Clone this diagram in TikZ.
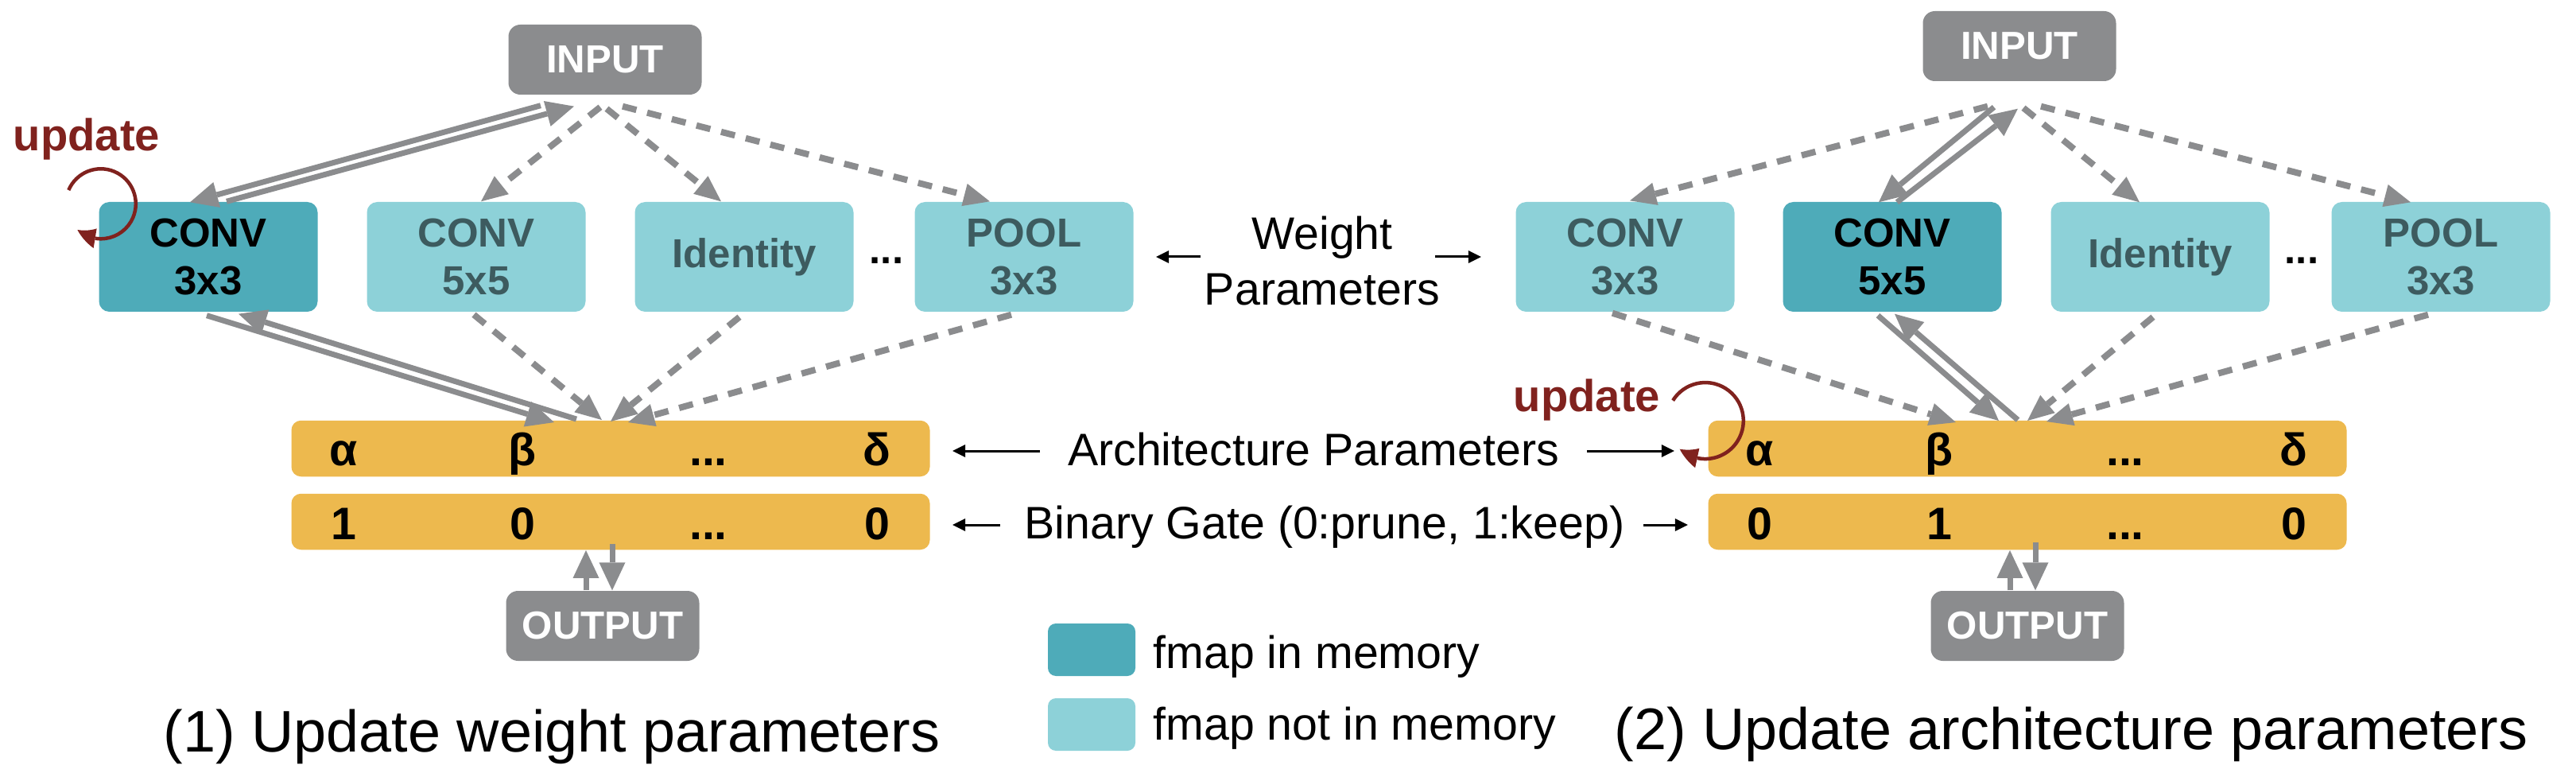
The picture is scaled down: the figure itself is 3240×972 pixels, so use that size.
\documentclass[tikz,border=0pt]{standalone}
\usepackage{fontspec}
\setmainfont{Liberation Sans}
\usetikzlibrary{arrows.meta,bending,calc}
\definecolor{iogray}{HTML}{8B8C8E}
\definecolor{memteal}{HTML}{4EABB9}
\definecolor{offteal}{HTML}{8DD1D8}
\definecolor{offtext}{HTML}{3D5B5F}
\definecolor{barorange}{HTML}{EDB94E}
\definecolor{updred}{HTML}{80221E}
\newcommand{\opdots}{...}
\tikzset{
  iobox/.style={fill=iogray, rounded corners=1.5mm, minimum width=24.3mm, minimum height=8.8mm,
    inner sep=0, text=white, font=\bfseries\fontsize{14}{16}\selectfont},
  opbox/.style={rounded corners=1.3mm, minimum width=27.5mm, minimum height=13.8mm, inner sep=0,
    align=center, font=\bfseries\fontsize{14.5}{17.07}\selectfont},
  inmem/.style={opbox, fill=memteal, text=black},
  outmem/.style={opbox, fill=offteal, text=offtext},
  gatebar/.style={fill=barorange, rounded corners=1.2mm, minimum width=80.3mm, minimum height=7.05mm, inner sep=0},
  barlbl/.style={anchor=base, inner sep=0, font=\bfseries\fontsize{16.3}{19}\selectfont},
  midtxt/.style={inner sep=0, font=\fontsize{16.3}{19.9}\selectfont},
  captxt/.style={anchor=base, inner sep=0, font=\fontsize{21}{25}\selectfont},
  updlbl/.style={anchor=base, inner sep=0, text=updred, font=\bfseries\fontsize{16}{19}\selectfont},
  legbox/.style={rounded corners=1mm, minimum width=11mm, minimum height=6.6mm, inner sep=0},
  fwd/.style={draw=iogray, line width=0.7mm, -{Triangle[length=3.5mm,width=3.3mm,line width=0pt]}},
  dasharr/.style={draw=iogray, line width=0.8mm, dash pattern=on 1.8mm off 1.4mm,
    -{Triangle[length=3.3mm,width=2.9mm,line width=0pt]}},
  lblarr/.style={draw=black, line width=0.3mm, -{Triangle[length=1.6mm,width=1.6mm,line width=0pt]}},
  upd/.style={draw=updred, line width=0.45mm, -{Triangle[length=2.5mm,width=2.5mm,line width=0pt,bend]}},
}
\begin{document}
\begin{tikzpicture}[x=0.1mm, y=-0.1mm]
   \useasboundingbox (0,0) rectangle (3240,972);

   % (1) weight step
   \node[iobox] (in1) at (761,75) {INPUT};
   \foreach \x/\sty/\lbl [count=\i] in {262/inmem/CONV\\3x3, 599/outmem/CONV\\5x5,
         936/outmem/Identity, 1288/outmem/POOL\\3x3} {
      \node[\sty] (c\i) at (\x,323) {\lbl};
   }
   \node[barlbl, font=\bfseries\fontsize{14.5}{17}\selectfont] (dots1) at (1115,332) {\opdots};
   \node[gatebar] (al1) at (768,564) {};
   \node[gatebar] (gt1) at (768,656) {};
   \foreach \dx/\sym/\gv [count=\i] in {-336/α/1, -111/β/0, 123/\opdots/\opdots, 335/δ/0} {
      \node[barlbl] (a1\i) at ($(al1.center)+(\dx,21)$) {\sym};
      \node[barlbl] (g1\i) at ($(gt1.center)+(\dx,22)$) {\gv};
   }
   \node[iobox] (out1) at (758,787) {OUTPUT};

   \draw[fwd] ($(c1.north)+(23,0)$) -- ($(in1.south)+(-39,14)$);
   \draw[fwd] ($(in1.south)+(-81,13)$) -- ($(c1.north)+(-23,1)$);
   \draw[dasharr] ($(in1.south)+(-6,15)$) -- ($(c2.north)+(6,0)$);
   \draw[dasharr] ($(in1.south)+(2,17)$) -- ($(c3.north)+(-29,0)$);
   \draw[dasharr] ($(in1.south)+(22,14)$) -- ($(c4.north)+(-43,0)$);
   \draw[fwd] ($(c1.south)+(-2,4)$) -- ($(al1.north)+(-71,3)$);
   \draw[fwd] ($(al1.north)+(-43,-1)$) -- ($(c1.south)+(38,2)$);
   \draw[dasharr] ($(c2.south)+(-3,3)$) -- ($(al1.north)+(-11,0)$);
   \draw[dasharr] ($(c3.south)+(-6,6)$) -- ($(al1.north)+(0,2)$);
   \draw[dasharr] ($(c4.south)+(-16,3)$) -- ($(al1.north)+(22,3)$);
   \draw[fwd] ($(out1.north)+(-21,0)$) -- ($(gt1.south)+(-31,0)$);
   \draw[fwd] ($(gt1.south)+(2,-8)$) -- ($(out1.north)+(12,0)$);

   \node[updlbl] (up1) at (109,190) {update};
   \draw[upd] ($(c1.north west)+(3,3)+(157:4.4mm)$) arc[start angle=157, end angle=-132, radius=4.4mm];

   % (2) architecture step
   \node[iobox] (in2) at (2540,58) {INPUT};
   \foreach \x/\sty/\lbl [count=\i] in {2044/outmem/CONV\\3x3, 2380/inmem/CONV\\5x5,
         2717/outmem/Identity, 3070/outmem/POOL\\3x3} {
      \node[\sty] (d\i) at (\x,323) {\lbl};
   }
   \node[barlbl, font=\bfseries\fontsize{14.5}{17}\selectfont] (dots2) at (2895,332) {\opdots};
   \node[gatebar] (al2) at (2550,564) {};
   \node[gatebar] (gt2) at (2550,656) {};
   \foreach \dx/\sym/\gv [count=\i] in {-337/α/0, -111/β/1, 123/\opdots/\opdots, 335/δ/0} {
      \node[barlbl] (a2\i) at ($(al2.center)+(\dx,21)$) {\sym};
      \node[barlbl] (g2\i) at ($(gt2.center)+(\dx,22)$) {\gv};
   }
   \node[iobox] (out2) at (2550,787) {OUTPUT};

   \draw[fwd] ($(d2.north)+(6,1)$) -- ($(in2.south)+(-2,34)$);
   \draw[fwd] ($(in2.south)+(-32,32)$) -- ($(d2.north)+(-17,1)$);
   \draw[dasharr] ($(in2.south)+(-40,31)$) -- ($(d1.north)+(6,-1)$);
   \draw[dasharr] ($(in2.south)+(5,33)$) -- ($(d3.north)+(-26,1)$);
   \draw[dasharr] ($(in2.south)+(27,31)$) -- ($(d4.north)+(-38,1)$);
   \draw[fwd] ($(d2.south)+(-18,4)$) -- ($(al2.north)+(-36,1)$);
   \draw[fwd] ($(al2.north)+(-12,0)$) -- ($(d2.south)+(3,2)$);
   \draw[dasharr] ($(d1.south)+(-16,1)$) -- ($(al2.north)+(-90,3)$);
   \draw[dasharr] ($(d3.south)+(-9,6)$) -- ($(al2.north)+(0,1)$);
   \draw[dasharr] ($(d4.south)+(-16,3)$) -- ($(al2.north)+(24,2)$);
   \draw[fwd] ($(out2.north)+(-22,0)$) -- ($(gt2.south)+(-22,0)$);
   \draw[fwd] ($(gt2.south)+(10,-10)$) -- ($(out2.north)+(10,0)$);

   \node[updlbl] (up2) at (1996,517) {update};
   \draw[upd] ($(al2.north west)+(-3,1)+(148:4.8mm)$) arc[start angle=148, end angle=-132, radius=4.8mm];

   % shared labels in the middle
   \node[midtxt, align=center] (wp) at (1663,328) {Weight\\Parameters};
   \draw[lblarr] ($(c4.east)+(84,0)$) -- ($(c4.east)+(28,0)$);
   \draw[lblarr] ($(d1.west)+(-101,0)$) -- ($(d1.west)+(-43,0)$);
   \node[midtxt, anchor=base] (ap) at (1652,585) {Architecture Parameters};
   \draw[lblarr] ($(al1.east)+(138,3)$) -- ($(al1.east)+(28,3)$);
   \draw[lblarr] ($(al2.west)+(-152,3)$) -- ($(al2.west)+(-42,3)$);
   \node[midtxt, anchor=base] (bg) at (1666,677) {Binary Gate (0:prune, 1:keep)};
   \draw[lblarr] ($(gt1.east)+(88,4)$) -- ($(gt1.east)+(28,4)$);
   \draw[lblarr] ($(gt2.west)+(-81,4)$) -- ($(gt2.west)+(-25,4)$);

   % legend
   \node[legbox, fill=memteal] (lg1) at (1373,817) {};
   \node[legbox, fill=offteal] (lg2) at (1373,911) {};
   \node[midtxt, anchor=base west] (lt1) at (1450,840) {fmap in memory};
   \node[midtxt, anchor=base west] (lt2) at (1450,930) {fmap not in memory};

   % captions
   \node[captxt] (cap1) at (694,945) {(1) Update weight parameters};
   \node[captxt] (cap2) at (2605,942) {(2) Update architecture parameters};
\end{tikzpicture}
\end{document}
